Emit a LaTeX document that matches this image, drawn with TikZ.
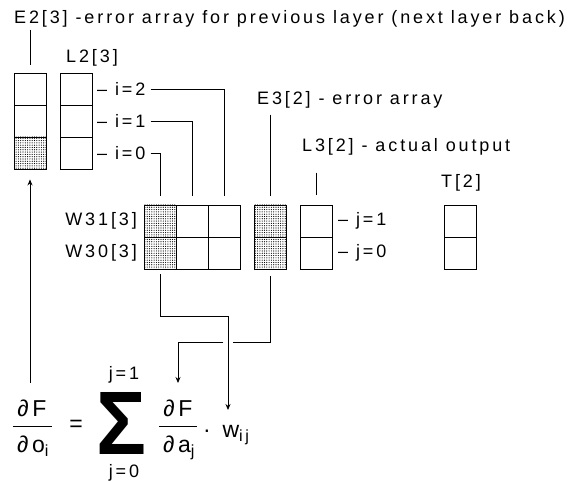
\documentclass[tikz,border=0pt]{standalone}
\usepackage{fontspec}
\setmainfont{Liberation Sans}[LetterSpace=16]
\usetikzlibrary{arrows.meta, patterns.meta}
\tikzset{
  cell/.style={
    rectangle, draw, line width=0.9pt,
    minimum size=32pt, inner sep=0pt
  },
  dotcell/.style={
    cell, pattern={Dots[distance=2.3pt, radius=0.6pt]}
  },
  lbl/.style={inner sep=2pt, font=\fontsize{18}{20}\selectfont},
  mth/.style={inner sep=0pt, anchor=base, font=\fontsize{23}{26}\selectfont},
  wire/.style={line width=0.8pt},
  arr/.style={wire, -{Stealth[length=6pt, width=5pt]}},
}

\begin{document}
\begin{tikzpicture}[x=1pt, y=-1pt]
    \useasboundingbox (0,0) rectangle (571,481);

    % arrays
    \foreach \i/\y in {0/153, 1/121, 2/89}
      \node[cell] (l2-\i) at (76,\y) {};
    \node[dotcell] (e2-0) at (30,153) {};
    \node[cell]    (e2-1) at (30,121) {};
    \node[cell]    (e2-2) at (30,89)  {};

    \foreach \j/\y in {1/221, 0/253} {
      \node[dotcell] (w\j-0) at (160,\y) {};
      \node[cell]    (w\j-1) at (192,\y) {};
      \node[cell]    (w\j-2) at (224,\y) {};
      \node[dotcell] (e3-\j) at (270,\y) {};
      \node[cell]    (l3-\j) at (316,\y) {};
      \node[cell]    (t-\j)  at (460,\y) {};
    }

    % labels
    \node[lbl, anchor=west] (title) at (12,19)
         {E2[3] -error array for previous layer (next layer back)};
    \node[lbl] (l2lbl) at (92,58) {L2[3]};
    \node[lbl, anchor=west] (e3lbl) at (255,100) {E3[2] - error array};
    \node[lbl, anchor=west] (l3lbl) at (300,147) {L3[2] - actual output};
    \node[lbl] (tlbl) at (461,183) {T[2]};
    \node[lbl, anchor=east] (w31) at (139,221) {W31[3]};
    \node[lbl, anchor=east] (w30) at (139,253) {W30[3]};
    \node[lbl, anchor=west] (j1) at (336,221) {– j=1};
    \node[lbl, anchor=west] (j0) at (336,253) {– j=0};

    \draw[wire, shorten >=8pt] (title.south -| e2-2.north) -- (e2-2.north);
    \draw[wire, shorten <=4pt, shorten >=9pt] (e3lbl.south -| e3-1.north) -- (e3-1.north);
    \draw[wire, shorten <=15pt, shorten >=10pt] (l3lbl.south -| l3-1.north) -- (l3-1.north);

    \foreach \i/\y in {0/153, 1/121, 2/89} {
      \node[lbl, anchor=west] (i\i) at (95,\y) {– i=\i};
      \draw[wire, shorten <=3pt, shorten >=9pt] (i\i.east) -| (w1-\i.north);
    }

    % formula
    \node[mth] (dFo) at (32,417) {∂F};
    \node[mth] (do)  at (33,453) {∂o\textsubscript{i}};
    \draw[wire] (13,426) -- (52,426);
    \node[mth, anchor=center] (eq) at (76,426) {=};
    \node[inner sep=0pt] (sum) at (122,423)
         {\resizebox{50pt}{62pt}{\fontspec{Liberation Sans Bold}Σ}};
    \node[lbl, anchor=base, inner sep=0pt] (jtop) at (124,380) {j=1};
    \node[lbl, anchor=base, inner sep=0pt] (jbot) at (124,477) {j=0};
    \node[mth] (dFa) at (178,417) {∂F};
    \node[mth] (da)  at (179,453) {∂a\textsubscript{j}};
    \draw[wire] (159,426) -- (197,426);
    \node[mth] (dot) at (207,438) {·};
    \node[mth] (wij) at (236,438) {w\textsubscript{ij}};

    % back-propagation wires
    \coordinate (wbend) at (228,316);
    \coordinate (wtip)  at (228,410);
    \coordinate (gapR)  at (233,342);
    \coordinate (gapL)  at (223,342);
    \coordinate (atip)  at (178,383);
    \coordinate (otail) at (30,383);
    \draw[arr, shorten <=5pt] (w0-0.south) |- (wbend) -- (wtip);
    \draw[wire, shorten <=7pt] (e3-0.south) |- (gapR);
    \draw[arr] (gapL) -| (atip);
    \draw[arr, shorten >=10pt] (otail) -- (e2-0.south);

  \end{tikzpicture}
\end{document}
